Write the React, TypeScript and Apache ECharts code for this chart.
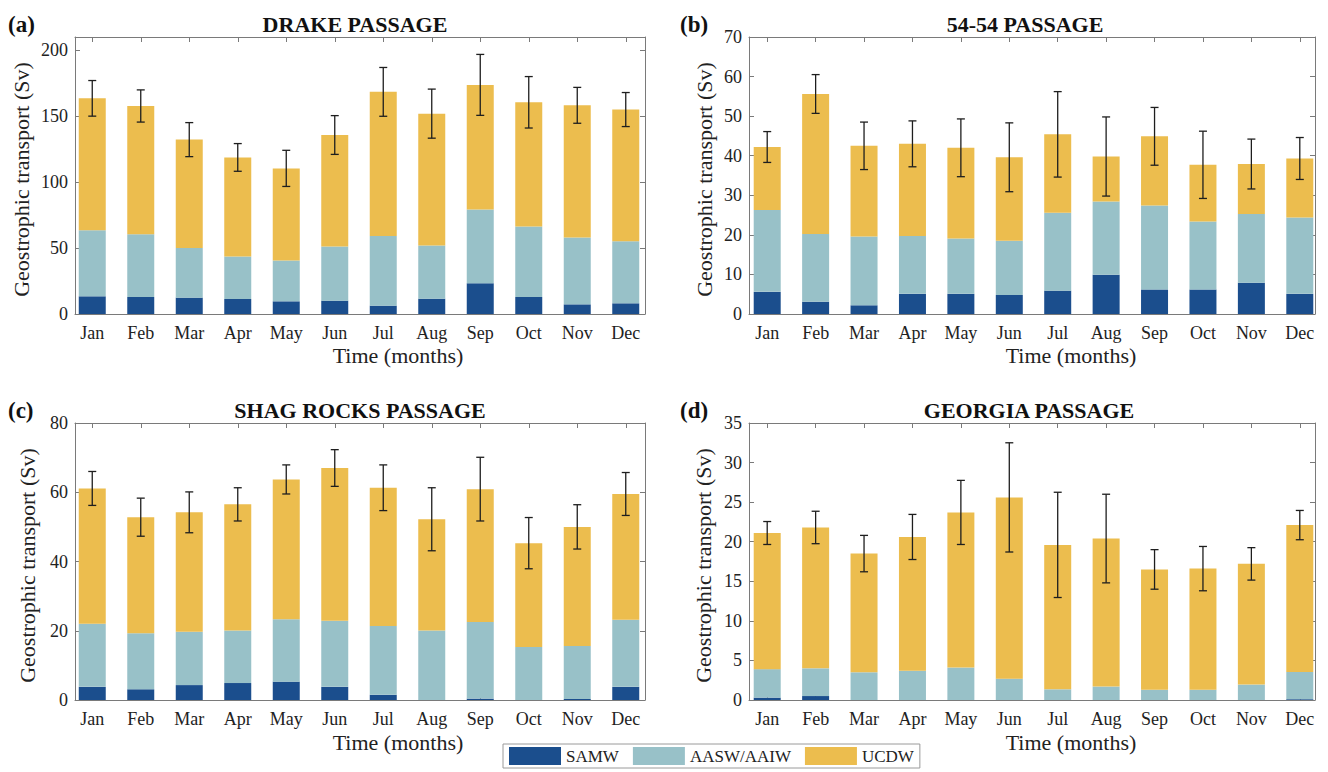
import React, { useEffect, useRef } from "react";
import * as echarts from "echarts";

const months = ["Jan", "Feb", "Mar", "Apr", "May", "Jun", "Jul", "Aug", "Sep", "Oct", "Nov", "Dec"];
const seriesNames = ["SAMW", "AASW/AAIW", "UCDW"];
const colors = ["#1b4e8d", "#98c1c8", "#ecbd4e"];

// (a) Drake Passage
const drakeSAMW = [13.4, 12.9, 12.4, 11.4, 9.6, 10.1, 6.3, 11.6, 23.3, 12.9, 7.3, 8.1];
const drakeAASW = [50.1, 47.6, 37.7, 32.1, 30.9, 41.0, 52.9, 40.3, 55.9, 53.4, 50.7, 47.1];
const drakeUCDW = [100.0, 97.2, 82.1, 75.2, 69.9, 84.6, 109.2, 100.0, 94.5, 94.2, 100.2, 99.8];
const drakeErr = [13.5, 12.2, 12.9, 10.5, 13.7, 14.7, 18.5, 18.6, 23.1, 19.5, 13.6, 12.9];

// (b) 54-54 Passage
const p5454SAMW = [5.6, 3.1, 2.2, 5.1, 5.1, 4.8, 5.9, 9.9, 6.2, 6.2, 7.9, 5.1];
const p5454AASW = [20.7, 17.1, 17.4, 14.6, 14.0, 13.7, 19.7, 18.5, 21.2, 17.2, 17.4, 19.3];
const p5454UCDW = [15.9, 35.4, 22.9, 23.3, 22.9, 21.1, 19.8, 11.4, 17.5, 14.3, 12.6, 14.9];
const p5454Err = [3.9, 4.9, 6.0, 5.8, 7.3, 8.7, 10.8, 10.0, 7.3, 8.5, 6.3, 5.3];

// (c) Shag Rocks Passage
const shagSAMW = [3.8, 3.1, 4.3, 4.9, 5.3, 3.8, 1.5, 0.0, 0.4, 0.0, 0.3, 3.8];
const shagAASW = [18.2, 16.2, 15.4, 15.2, 18.0, 19.1, 19.9, 20.1, 22.1, 15.3, 15.3, 19.4];
const shagUCDW = [39.1, 33.5, 34.5, 36.4, 40.4, 44.1, 39.9, 32.1, 38.4, 30.0, 34.4, 36.3];
const shagErr = [4.9, 5.5, 5.9, 4.8, 4.2, 5.3, 6.6, 9.1, 9.2, 7.4, 6.4, 6.2];

// (d) Georgia Passage
const georgiaSAMW = [0.3, 0.5, 0.0, 0.0, 0.0, 0.0, 0.0, 0.0, 0.0, 0.0, 0.0, 0.1];
const georgiaAASW = [3.6, 3.5, 3.5, 3.7, 4.1, 2.7, 1.35, 1.7, 1.3, 1.3, 1.95, 3.45];
const georgiaUCDW = [17.2, 17.8, 15.0, 16.9, 19.6, 22.9, 18.25, 18.7, 15.2, 15.3, 15.25, 18.55];
const georgiaErr = [1.45, 2.05, 2.3, 2.85, 4.05, 6.9, 6.65, 5.6, 2.5, 2.8, 2.05, 1.85];

const FONT = '"Liberation Serif", "Times New Roman", serif';
const AXIS_COLOR = "#7a7a7a";
const TEXT_COLOR = "#222222";

const panels = [
  {
    label: "(a)", title: "DRAKE PASSAGE", layers: [drakeSAMW, drakeAASW, drakeUCDW], err: drakeErr,
    ymax: 210, interval: 50, boxL: 75, boxR: 645, catL: 68, catR: 650, top: 37, bottom: 314,
    titleX: 355, titleY: 24, labelX: 8, xnameX: 398, xnameY: 355, ynameX: 21,
  },
  {
    label: "(b)", title: "54-54 PASSAGE", layers: [p5454SAMW, p5454AASW, p5454UCDW], err: p5454Err,
    ymax: 70, interval: 10, boxL: 749, boxR: 1315, catL: 743, catR: 1324, top: 37, bottom: 314,
    titleX: 1025, titleY: 24, labelX: 680, xnameX: 1071, xnameY: 355, ynameX: 704,
  },
  {
    label: "(c)", title: "SHAG ROCKS PASSAGE", layers: [shagSAMW, shagAASW, shagUCDW], err: shagErr,
    ymax: 80, interval: 20, boxL: 75, boxR: 645, catL: 68, catR: 650, top: 423, bottom: 700,
    titleX: 360, titleY: 410, labelX: 8, xnameX: 398, xnameY: 742, ynameX: 27,
  },
  {
    label: "(d)", title: "GEORGIA PASSAGE", layers: [georgiaSAMW, georgiaAASW, georgiaUCDW], err: georgiaErr,
    ymax: 35, interval: 5, boxL: 749, boxR: 1315, catL: 743, catR: 1324, top: 423, bottom: 700,
    titleX: 1029, titleY: 410, labelX: 680, xnameX: 1071, xnameY: 742, ynameX: 703,
  },
];

function buildOption() {
  const grid: any[] = [];
  const xAxis: any[] = [];
  const yAxis: any[] = [];
  const series: any[] = [];
  const graphic: any[] = [];

  panels.forEach((p, pi) => {
    const h = p.bottom - p.top;
    grid.push({ left: p.catL, top: p.top, width: p.catR - p.catL, height: h, containLabel: false });
    grid.push({ left: p.boxL, top: p.top, width: p.boxR - p.boxL, height: h, containLabel: false });
    const gBars = 2 * pi;
    const gBox = 2 * pi + 1;

    const tickStyle = { show: true, inside: true, length: 5, alignWithLabel: true, lineStyle: { color: AXIS_COLOR, width: 1 } };
    xAxis.push({
      type: "category", gridIndex: gBars, data: months, position: "bottom",
      axisLine: { show: false }, axisTick: tickStyle, splitLine: { show: false },
      axisLabel: { fontSize: 18, fontFamily: FONT, color: TEXT_COLOR, margin: 10 },
    });
    xAxis.push({
      type: "category", gridIndex: gBars, data: months, position: "top",
      axisLine: { show: false }, axisTick: tickStyle, axisLabel: { show: false }, splitLine: { show: false },
    });
    const lineOnly = {
      type: "value", gridIndex: gBox, min: 0, max: 1,
      axisLine: { show: true, onZero: false, lineStyle: { color: AXIS_COLOR, width: 1 } },
      axisTick: { show: false }, axisLabel: { show: false }, splitLine: { show: false },
    };
    xAxis.push({ ...lineOnly, position: "bottom" });
    xAxis.push({ ...lineOnly, position: "top" });

    yAxis.push({ type: "value", gridIndex: gBars, min: 0, max: p.ymax, show: false, splitLine: { show: false } });
    const yTick = { show: true, inside: true, length: 5, lineStyle: { color: AXIS_COLOR, width: 1 } };
    yAxis.push({
      type: "value", gridIndex: gBox, min: 0, max: p.ymax, interval: p.interval, position: "left",
      axisLine: { show: true, onZero: false, lineStyle: { color: AXIS_COLOR, width: 1 } },
      axisTick: yTick, splitLine: { show: false },
      axisLabel: { fontSize: 18, fontFamily: FONT, color: TEXT_COLOR, margin: 7, showMaxLabel: p.ymax % p.interval === 0 },
    });
    yAxis.push({
      type: "value", gridIndex: gBox, min: 0, max: p.ymax, interval: p.interval, position: "right",
      axisLine: { show: true, onZero: false, lineStyle: { color: AXIS_COLOR, width: 1 } },
      axisTick: yTick, splitLine: { show: false }, axisLabel: { show: false },
    });

    const xIdx = 4 * pi;
    const yIdx = 3 * pi;
    p.layers.forEach((vals, li) => {
      series.push({
        type: "bar", name: seriesNames[li], xAxisIndex: xIdx, yAxisIndex: yIdx, stack: "s" + pi,
        data: vals, barWidth: 27, itemStyle: { color: colors[li] }, z: 2,
      });
    });
    const totals = months.map((_, i) => p.layers[0][i] + p.layers[1][i] + p.layers[2][i]);
    series.push({
      type: "custom", name: "err" + pi, xAxisIndex: xIdx, yAxisIndex: yIdx, z: 10,
      encode: { x: 0, y: 1 },
      data: months.map((_, i) => [i, totals[i], p.err[i]]),
      renderItem: (params: any, api: any) => {
        const x = api.value(0);
        const c = api.value(1);
        const s = api.value(2);
        const hi = api.coord([x, c + s]);
        const lo = api.coord([x, c - s]);
        const w = 4;
        const st = { stroke: "#1e1e1e", lineWidth: 1.3 };
        return {
          type: "group",
          children: [
            { type: "line", shape: { x1: hi[0], y1: hi[1], x2: lo[0], y2: lo[1] }, style: st },
            { type: "line", shape: { x1: hi[0] - w, y1: hi[1], x2: hi[0] + w, y2: hi[1] }, style: st },
            { type: "line", shape: { x1: lo[0] - w, y1: lo[1], x2: lo[0] + w, y2: lo[1] }, style: st },
          ],
        };
      },
    });

    graphic.push({
      type: "text", x: p.labelX, y: p.titleY,
      style: { text: p.label, font: `bold 23px ${FONT}`, fill: "#111", textAlign: "left", align: "left", textVerticalAlign: "middle", verticalAlign: "middle" },
    });
    graphic.push({
      type: "text", x: p.titleX, y: p.titleY,
      style: { text: p.title, font: `bold 22px ${FONT}`, fill: "#111", textAlign: "center", align: "center", textVerticalAlign: "middle", verticalAlign: "middle" },
    });
    graphic.push({
      type: "text", x: p.xnameX, y: p.xnameY,
      style: { text: "Time (months)", font: `22px ${FONT}`, fill: TEXT_COLOR, textAlign: "center", align: "center", textVerticalAlign: "middle", verticalAlign: "middle" },
    });
    graphic.push({
      type: "text", x: p.ynameX, y: (p.top + p.bottom) / 2 + 4, rotation: Math.PI / 2,
      style: { text: "Geostrophic transport (Sv)", font: `22px ${FONT}`, fill: TEXT_COLOR, textAlign: "center", align: "center", textVerticalAlign: "middle", verticalAlign: "middle" },
    });
  });

  return {
    animation: false,
    backgroundColor: "#ffffff",
    grid, xAxis, yAxis, series, graphic,
    legend: {
      data: seriesNames,
      left: 503, top: 744,
      orient: "horizontal",
      icon: "rect",
      itemWidth: 52, itemHeight: 18, itemGap: 14,
      padding: [3, 6, 3, 6],
      borderColor: "#9a9a9a", borderWidth: 1, borderRadius: 0,
      backgroundColor: "#ffffff",
      textStyle: { fontSize: 17, fontFamily: FONT, color: TEXT_COLOR, padding: [0, 0, 0, 0] },
      selectedMode: false,
    },
  };
}

export default function App() {
  const ref = useRef<HTMLDivElement>(null);
  useEffect(() => {
    if (!ref.current) return;
    const chart = echarts.init(ref.current, null, { renderer: "svg" });
    chart.setOption(buildOption() as any);
    return () => chart.dispose();
  }, []);
  return (
    <div
      ref={ref}
      style={{ position: "fixed", left: 0, top: 0, width: 1328, height: 772, background: "#fff" }}
    />
  );
}
